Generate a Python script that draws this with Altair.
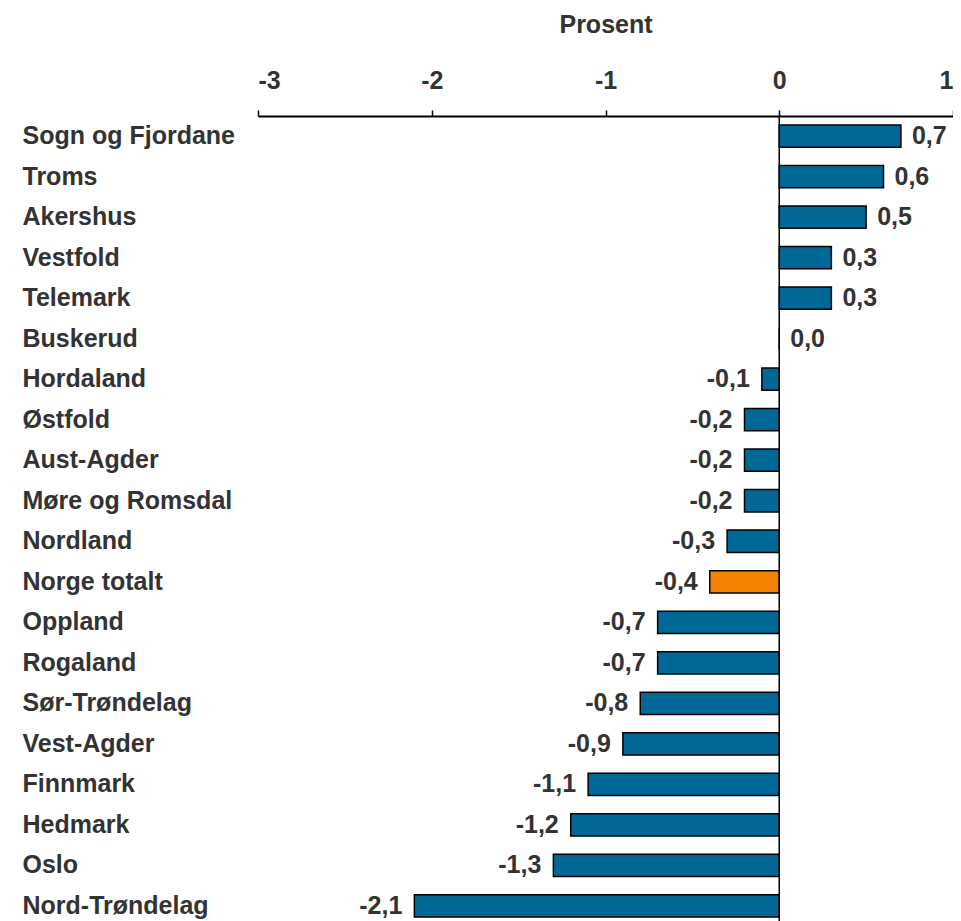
import altair as alt
import pandas as pd

regions = ["Sogn og Fjordane", "Troms", "Akershus", "Vestfold", "Telemark", "Buskerud",
           "Hordaland", "Østfold", "Aust-Agder", "Møre og Romsdal", "Nordland", "Norge totalt",
           "Oppland", "Rogaland", "Sør-Trøndelag", "Vest-Agder", "Finnmark", "Hedmark",
           "Oslo", "Nord-Trøndelag"]
values = [0.7, 0.6, 0.5, 0.3, 0.3, 0.0, -0.1, -0.2, -0.2, -0.2, -0.3, -0.4,
          -0.7, -0.7, -0.8, -0.9, -1.1, -1.2, -1.3, -2.1]
x_ticks = [-3, -2, -1, 0, 1]

df = pd.DataFrame({"region": regions, "value": values})
df["label"] = [f"{v:.1f}".replace(".", ",") for v in values]
df["total"] = [r == "Norge totalt" for r in regions]

FONT = "Liberation Sans"
TXT = "#333333"
FS = 25

y_enc = alt.Y("region:N", sort=regions, title=None,
              scale=alt.Scale(paddingInner=0.45, paddingOuter=0.22),
              axis=alt.Axis(domain=False, ticks=False, tickSize=0, labelAlign="left",
                            labelPadding=236, labelLimit=0, labelFont=FONT, labelFontSize=FS,
                            labelFontWeight="bold", labelColor=TXT, labelBaseline="middle"))
x_enc = alt.X("value:Q", scale=alt.Scale(domain=[-3, 1], nice=False, zero=False),
              title="Prosent",
              axis=alt.Axis(orient="top", values=x_ticks, labelExpr="datum.value + ''",
                            grid=False,
                            domainColor="black", domainWidth=2, tickColor="black",
                            tickWidth=1.5, tickSize=6, labelPadding=17, labelFont=FONT,
                            labelFontSize=FS, labelFontWeight="bold", labelColor=TXT,
                            titleFont=FONT, titleFontSize=FS, titleFontWeight="bold",
                            titleColor=TXT, titlePadding=31))

bars = alt.Chart(df).mark_bar(stroke="black", strokeWidth=1.5).encode(
    x=x_enc,
    x2=alt.datum(0),
    y=y_enc,
    color=alt.condition(alt.datum.total, alt.value("#F58100"), alt.value("#006896")),
)

pos = alt.Chart(df).transform_filter(alt.datum.value >= 0).mark_text(
    align="left", baseline="middle", dx=11, font=FONT, fontSize=FS,
    fontWeight="bold", color=TXT).encode(
    x="value:Q", y=alt.Y("region:N", sort=regions), text="label:N")

neg = alt.Chart(df).transform_filter(alt.datum.value < 0).mark_text(
    align="right", baseline="middle", dx=-12, font=FONT, fontSize=FS,
    fontWeight="bold", color=TXT).encode(
    x="value:Q", y=alt.Y("region:N", sort=regions), text="label:N")

zero = alt.Chart(pd.DataFrame({"z": [0]})).mark_rule(color="black", strokeWidth=1.5).encode(
    x="z:Q")

chart = alt.layer(bars, zero, pos, neg).properties(
    width=695, height=810,
    autosize=alt.AutoSizeParams(type="none"),
    padding={"left": 250, "top": 108, "right": 0, "bottom": 0},
).configure_view(stroke=None)

chart.save("out.html", embed_options={"renderer": "svg", "actions": False})
